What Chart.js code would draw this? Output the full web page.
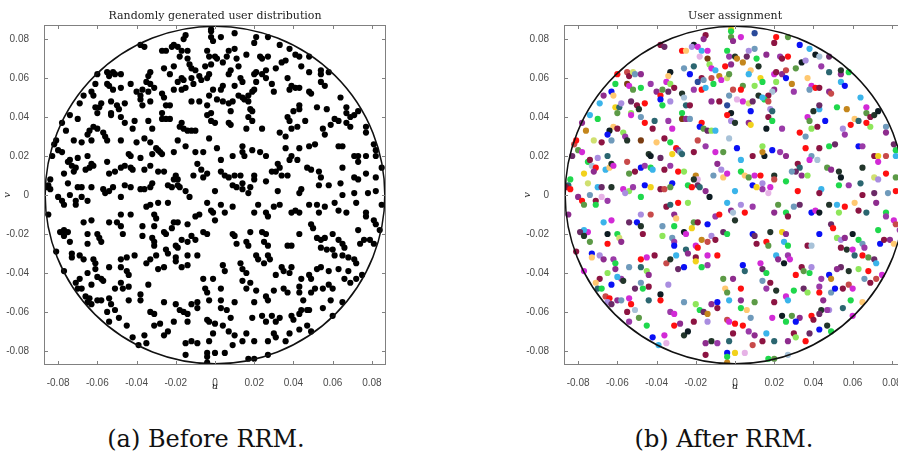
<!DOCTYPE html>
<html>
<head>
<meta charset="utf-8">
<script src="https://cdn.jsdelivr.net/npm/chart.js@4.4.1/dist/chart.umd.min.js"></script>
<style>
  html, body { margin: 0; padding: 0; background: #fff; }
  body { width: 898px; height: 454px; overflow: hidden; position: relative; }
  canvas { position: absolute; top: 0; }
  #chart-a { left: 0; }
  #chart-b { left: 520px; }
  .caption { position: absolute; top: 427px; font-family: "DejaVu Serif", serif; font-size: 24px; line-height: 1; color: #111; white-space: nowrap; transform: translateX(-50%); }
</style>
</head>
<body>
<canvas id="chart-a" width="420" height="400"></canvas>
<canvas id="chart-b" width="420" height="400"></canvas>
<div class="caption" style="left:206px">(a) Before RRM.</div>
<div class="caption" style="left:724px">(b) After RRM.</div>
<script>
// users as [u, v, group] - group is the index of the assigned colour on the right panel
const usersNW = [
  [-0.060,0.062,0],[-0.055,0.063,19],[-0.054,0.061,6],[-0.052,0.063,21],[-0.051,0.062,9],[-0.048,0.062,4],[-0.061,0.057,2],[-0.055,0.057,17],[-0.054,0.056,5],[-0.052,0.054,13],
  [-0.048,0.055,2],[-0.043,0.057,20],[-0.063,0.053,1],[-0.062,0.051,22],[-0.067,0.051,4],[-0.069,0.047,8],[-0.061,0.045,10],[-0.059,0.045,12],[-0.058,0.047,7],[-0.053,0.048,24],
  [-0.050,0.046,6],[-0.049,0.044,3],[-0.046,0.047,0],[-0.053,0.042,14],
  [-0.002,0.085,10],[-0.002,0.084,2],[-0.002,0.081,13],[-0.001,0.079,4],[-0.038,0.077,6],[-0.036,0.076,24],[-0.015,0.082,6],[-0.016,0.080,4],[-0.021,0.077,18],[-0.022,0.076,7],
  [-0.019,0.076,5],[-0.027,0.074,0],[-0.025,0.074,22],[-0.017,0.074,8],[-0.018,0.071,15],[-0.014,0.074,5],[-0.004,0.074,2],[-0.003,0.071,20],[0.000,0.071,3],[0.001,0.070,11],
  [-0.026,0.065,9],[-0.023,0.062,1],[-0.021,0.066,12],[-0.014,0.070,17],[-0.013,0.067,14],[-0.012,0.065,5],[-0.010,0.064,8],[-0.005,0.066,0],[-0.002,0.067,4],[-0.033,0.063,18],
  [-0.034,0.061,22],[-0.017,0.060,6],[-0.019,0.058,23],[-0.016,0.059,9],[-0.012,0.060,19],[-0.011,0.057,2],[-0.008,0.061,11],[-0.007,0.059,5],[-0.004,0.060,21],[-0.003,0.062,13],
  [-0.035,0.058,5],[-0.033,0.057,14],[-0.031,0.055,6],[-0.040,0.053,4],[-0.038,0.051,0],[-0.038,0.049,1],[-0.037,0.054,13],[-0.034,0.053,24],[-0.027,0.052,3],[-0.026,0.050,16],
  [-0.021,0.054,20],[-0.017,0.054,0],[-0.015,0.055,8],[-0.012,0.048,4],[-0.008,0.048,6],[-0.004,0.046,23],[-0.003,0.051,9],[-0.001,0.054,19],[-0.037,0.046,2],[-0.033,0.048,7],
  [-0.025,0.046,12],[-0.023,0.046,6],[-0.027,0.042,2],[0.001,0.049,15],[-0.002,0.042,18],
  [-0.074,0.041,8],[-0.060,0.042,13],[-0.053,0.041,5],[-0.048,0.040,9],[-0.046,0.037,0],[-0.070,0.039,2],[-0.078,0.037,4],[-0.062,0.035,22],[-0.060,0.034,6],[-0.064,0.033,18],
  [-0.065,0.031,1],[-0.057,0.032,14],[-0.056,0.030,20],[-0.055,0.028,3],[-0.076,0.033,11],[-0.082,0.026,19],[-0.081,0.028,0],[-0.072,0.028,21],[-0.068,0.027,6],[-0.063,0.028,9],
  [-0.048,0.028,17],[-0.080,0.023,13],[-0.078,0.022,5],[-0.083,0.020,24],[-0.070,0.019,7],[-0.065,0.020,12],[-0.075,0.017,2],[-0.074,0.018,6],[-0.073,0.015,16],[-0.071,0.014,0],
  [-0.072,0.012,4],[-0.077,0.011,10],[-0.066,0.013,8],[-0.064,0.014,22],[-0.063,0.016,3],[-0.062,0.015,5],[-0.055,0.017,19],[-0.054,0.011,13],[-0.051,0.012,6],[-0.048,0.014,1],
  [-0.046,0.015,20],[-0.084,0.008,2],[-0.085,0.005,12],[-0.086,0.004,6],[-0.084,0.003,0],[-0.075,0.006,21],[-0.070,0.004,8],[-0.068,0.004,24],[-0.063,0.004,3],[-0.057,0.003,5],
  [-0.054,0.002,14],[-0.052,0.004,20],[-0.046,0.005,1],[-0.043,0.004,10],[-0.080,-0.001,4],[-0.074,0.000,9],[-0.068,-0.001,15],[-0.056,0.001,7],[-0.048,-0.001,2],
  [-0.004,0.041,0],[-0.041,0.038,12],[-0.042,0.034,6],[-0.034,0.038,20],[-0.027,0.039,17],[-0.025,0.039,4],[-0.023,0.039,9],[-0.017,0.037,0],[-0.018,0.035,1],[-0.016,0.034,13],
  [-0.014,0.033,24],[-0.012,0.033,14],[-0.002,0.038,7],[0.000,0.037,3],[-0.010,0.033,8],[-0.032,0.034,5],[-0.040,0.027,22],[-0.036,0.029,6],[-0.033,0.027,2],[-0.019,0.028,19],
  [-0.015,0.025,20],[-0.003,0.029,16],[-0.030,0.024,0],[-0.029,0.023,4],[-0.028,0.022,9],[-0.027,0.021,12],[-0.021,0.022,6],[-0.010,0.022,5],[-0.006,0.022,13],[0.001,0.024,1],
  [-0.044,0.021,3],[-0.043,0.020,18],[-0.038,0.019,24],[-0.032,0.021,10],[-0.043,0.014,2],[-0.042,0.013,8],[-0.036,0.013,6],[-0.033,0.015,20],[-0.029,0.012,0],[-0.026,0.012,14],
  [-0.009,0.016,4],[-0.007,0.013,7],[-0.006,0.009,22],[-0.004,0.011,5],[-0.020,0.010,11],[-0.019,0.008,15],[-0.021,0.008,3],[-0.011,0.010,9],[-0.032,0.006,1],[-0.033,0.004,13],
  [-0.038,0.003,6],[-0.036,0.003,19],[-0.024,0.005,2],[-0.022,0.004,0],[-0.019,0.005,24],[-0.018,0.004,12],[-0.015,0.002,4],[-0.013,-0.001,18],[0.000,0.002,8]
];
const usersNE = [
  [0.003,0.081,5],[0.010,0.083,23],[0.020,0.078,6],[0.021,0.081,0],[0.027,0.081,13],[0.033,0.077,1],[0.038,0.075,8],[0.041,0.072,18],[0.043,0.071,16],[0.016,0.072,4],
  [0.023,0.071,20],[0.024,0.070,6],[0.027,0.071,0],[0.011,0.070,2],[0.010,0.075,9],[0.007,0.074,7],[0.006,0.071,24],[0.004,0.068,11],[0.008,0.064,22],[0.012,0.066,3],
  [0.007,0.062,8],[0.013,0.060,10],[0.014,0.058,2],[0.010,0.056,14],[0.020,0.062,5],[0.021,0.063,6],[0.024,0.062,4],[0.026,0.064,19],[0.026,0.060,1],[0.031,0.065,13],
  [0.034,0.068,18],[0.036,0.069,7],[0.044,0.066,20],[0.048,0.071,24],[0.048,0.063,12],[0.054,0.062,4],[0.054,0.064,3],[0.058,0.063,2],[0.054,0.058,8],[0.056,0.056,1],
  [0.037,0.060,22],[0.039,0.056,5],[0.041,0.055,0],[0.043,0.055,6],[0.038,0.054,9],[0.029,0.057,11],[0.030,0.053,20],[0.021,0.058,14],[0.020,0.054,4],[0.019,0.053,16],
  [0.017,0.051,6],[0.015,0.049,2],[0.017,0.048,19],[0.012,0.051,3],[0.014,0.050,8],[0.004,0.056,13],[0.003,0.054,0],[0.004,0.048,5],[0.007,0.047,21],[0.009,0.048,24],
  [0.008,0.043,1],[0.018,0.044,7],[0.019,0.043,12],[0.007,0.037,4],[0.008,0.036,10],[0.017,0.040,6],[0.019,0.038,2],[0.016,0.034,18],[0.024,0.034,20],[0.033,0.032,0],
  [0.036,0.030,9],[0.037,0.040,5],[0.038,0.038,13],[0.040,0.043,3],[0.043,0.044,8],[0.043,0.046,24],[0.039,0.034,14],[0.042,0.035,6],[0.046,0.038,1],[0.048,0.053,4],
  [0.049,0.052,19],[0.052,0.045,2],[0.057,0.044,11],[0.055,0.034,7],[0.056,0.031,20],[0.059,0.036,0],[0.061,0.039,22],[0.063,0.038,12],[0.064,0.050,8],[0.067,0.045,5],
  [0.067,0.042,13],[0.069,0.040,6],[0.071,0.041,3],[0.073,0.043,18],[0.077,0.035,9],[0.077,0.032,4],[0.082,0.023,2],[0.081,0.026,24],[0.069,0.035,14],[0.067,0.037,0],
  [0.063,0.025,1],[0.065,0.025,20],[0.071,0.020,6],[0.073,0.020,10],[0.073,0.017,5],[0.077,0.020,19],[0.082,0.020,8],[0.085,0.014,4],[0.082,0.009,13],[0.077,0.011,0],
  [0.065,0.014,3],[0.071,0.009,21],[0.073,0.008,7],[0.064,0.006,12],[0.048,0.025,2],[0.051,0.026,24],[0.043,0.024,6],[0.039,0.020,9],[0.042,0.018,16],[0.038,0.018,5],
  [0.036,0.024,0],[0.023,0.022,20],[0.026,0.020,4],[0.019,0.023,1],[0.014,0.025,14],[0.015,0.020,18],[0.014,0.022,11],[0.009,0.020,6],[0.003,0.018,8],[0.003,0.012,2],
  [0.005,0.010,22],[0.007,0.009,13],[0.010,0.010,5],[0.013,0.010,0],[0.020,0.010,3],[0.020,0.008,19],[0.032,0.016,6],[0.033,0.014,12],[0.034,0.010,4],[0.031,0.012,24],
  [0.029,0.012,9],[0.026,0.007,2],[0.014,0.006,7],[0.014,0.003,20],[0.009,0.005,1],[0.011,0.004,10],[0.018,0.004,5],[0.017,0.001,15],[0.032,0.002,0],[0.044,0.003,8],
  [0.043,0.001,6],[0.037,0.010,14],[0.047,0.014,13],[0.049,0.013,4],[0.053,0.012,3],[0.054,0.009,18],[0.053,0.005,2],[0.058,0.005,20],[0.065,0.000,6],[0.071,0.001,24],
  [0.078,0.001,9],[0.082,0.002,0]
];
const usersSW = [
  [-0.085,-0.010,4],[-0.078,-0.003,0],[-0.077,-0.005,13],[-0.071,-0.003,6],[-0.071,-0.005,2],[-0.065,-0.003,20],[-0.067,-0.014,8],[-0.063,-0.013,5],[-0.054,-0.014,24],[-0.050,-0.014,1],
  [-0.048,-0.016,3],[-0.043,-0.010,19],[-0.048,-0.010,7],[-0.035,-0.006,6],[-0.033,-0.005,12],[-0.029,-0.004,0],[-0.024,-0.004,14],[-0.031,-0.010,4],[-0.030,-0.012,22],[-0.037,-0.016,9],
  [-0.031,-0.016,2],[-0.026,-0.019,18],[-0.025,-0.020,5],[-0.022,-0.017,10],[-0.021,-0.014,13],[-0.019,-0.014,6],[-0.014,-0.015,1],[-0.010,-0.011,20],[-0.008,-0.010,0],[-0.004,-0.004,8],
  [-0.002,-0.008,4],[-0.001,-0.009,16],[0.000,-0.013,3],[-0.006,-0.019,24],[-0.004,-0.020,2],[-0.012,-0.021,7],[-0.010,-0.023,6],[-0.017,-0.023,11],[-0.014,-0.024,19],[-0.020,-0.026,5],
  [-0.019,-0.027,0],[-0.025,-0.028,12],[-0.024,-0.030,4],[-0.032,-0.022,9],[-0.031,-0.024,20],[-0.031,-0.026,1],[-0.037,-0.021,14],[-0.047,-0.020,6],[-0.060,-0.020,2],[-0.059,-0.022,21],
  [-0.058,-0.024,4],[-0.065,-0.020,18],[-0.065,-0.025,0],[-0.075,-0.019,5],[-0.077,-0.018,8],[-0.079,-0.019,24],[-0.077,-0.021,3],[-0.074,-0.024,13],[-0.081,-0.029,6],[-0.073,-0.030,1],
  [-0.073,-0.032,22],[-0.069,-0.031,7],[-0.067,-0.033,4],[-0.062,-0.033,20],[-0.061,-0.035,2],[-0.054,-0.037,9],[-0.048,-0.033,0],[-0.045,-0.032,5],[-0.041,-0.031,6],[-0.048,-0.037,12],
  [-0.045,-0.039,14],[-0.044,-0.041,4],[-0.035,-0.035,19],[-0.033,-0.033,3],[-0.030,-0.031,8],[-0.029,-0.038,24],[-0.026,-0.037,1],[-0.020,-0.032,6],[-0.020,-0.034,10],[-0.017,-0.037,2],
  [-0.014,-0.036,20],[-0.014,-0.031,5],[-0.009,-0.031,0],[-0.006,-0.043,13],[-0.001,-0.043,4],[-0.034,-0.046,7],[-0.038,-0.051,18],[-0.044,-0.047,6],[-0.047,-0.048,2],[-0.048,-0.045,9],
  [-0.051,-0.048,24],[-0.054,-0.053,5],[-0.053,-0.056,0],[-0.051,-0.059,16],[-0.058,-0.043,20],[-0.057,-0.044,3],[-0.060,-0.042,8],[-0.061,-0.038,4],[-0.063,-0.046,1],[-0.065,-0.040,14],
  [-0.069,-0.043,6],[-0.071,-0.045,22],[-0.070,-0.048,12],[-0.068,-0.048,2],[-0.077,-0.039,5],[-0.066,-0.052,19],[-0.064,-0.053,0],[-0.065,-0.055,7],[-0.063,-0.056,24],[-0.060,-0.054,4],
  [-0.058,-0.054,9],[-0.055,-0.060,6],[-0.049,-0.063,13],[-0.045,-0.067,2],[-0.054,-0.065,20],[-0.042,-0.073,1],[-0.039,-0.077,8],[-0.036,-0.072,5],[-0.035,-0.076,15],[-0.031,-0.067,0],
  [-0.028,-0.066,4],[-0.026,-0.072,3],[-0.024,-0.070,18],[-0.021,-0.065,6],[-0.020,-0.056,14],[-0.018,-0.059,2],[-0.016,-0.060,24],[-0.014,-0.061,11],[-0.026,-0.055,9],[-0.033,-0.060,20],
  [-0.031,-0.061,5],[-0.038,-0.054,0],[-0.044,-0.054,12],[-0.012,-0.056,4],[-0.009,-0.055,1],[-0.009,-0.058,6],[-0.005,-0.048,22],[-0.004,-0.050,13],[-0.003,-0.054,8],[0.003,-0.058,2],
  [-0.004,-0.064,19],[-0.003,-0.065,5],[0.000,-0.066,0],[-0.014,-0.065,7],[-0.015,-0.076,4],[-0.012,-0.075,3],[-0.009,-0.076,20],[-0.003,-0.075,12],[-0.001,-0.071,6],[-0.015,-0.082,6],
  [-0.004,-0.081,1],[-0.004,-0.083,2],[-0.004,-0.086,11],[0.000,-0.081,10]
];
const usersSE = [
  [0.003,-0.005,7],[0.005,-0.009,0],[0.009,-0.006,20],[0.020,-0.009,4],[0.022,-0.005,13],[0.026,-0.009,2],[0.027,-0.011,6],[0.030,-0.006,9],[0.033,-0.005,24],[0.039,-0.009,1],
  [0.041,-0.008,5],[0.043,-0.009,18],[0.048,-0.005,3],[0.052,-0.005,8],[0.053,-0.009,14],[0.056,-0.006,0],[0.061,-0.004,22],[0.063,-0.008,6],[0.067,-0.009,12],[0.072,-0.004,4],
  [0.077,-0.009,2],[0.077,-0.011,20],[0.081,-0.013,5],[0.082,-0.015,19],[0.085,-0.005,9],[0.009,-0.020,1],[0.010,-0.021,24],[0.011,-0.025,6],[0.016,-0.024,0],[0.017,-0.026,13],
  [0.018,-0.019,3],[0.024,-0.019,10],[0.026,-0.020,4],[0.025,-0.024,8],[0.027,-0.026,2],[0.027,-0.031,20],[0.028,-0.033,5],[0.037,-0.026,6],[0.039,-0.026,16],[0.043,-0.020,1],
  [0.049,-0.015,24],[0.050,-0.017,0],[0.052,-0.022,14],[0.054,-0.023,7],[0.056,-0.022,4],[0.060,-0.020,18],[0.063,-0.023,2],[0.065,-0.025,9],[0.066,-0.027,20],[0.054,-0.027,6],
  [0.057,-0.028,3],[0.060,-0.028,5],[0.061,-0.031,12],[0.065,-0.031,0],[0.068,-0.032,13],[0.071,-0.033,24],[0.072,-0.035,8],[0.074,-0.025,1],[0.076,-0.023,6],[0.079,-0.023,4],
  [0.081,-0.025,22],[0.073,-0.018,2],[0.084,-0.018,20],[0.075,-0.041,5],[0.072,-0.043,19],[0.068,-0.039,0],[0.066,-0.043,9],[0.069,-0.045,6],[0.063,-0.038,14],[0.058,-0.039,3],
  [0.054,-0.037,24],[0.052,-0.038,4],[0.048,-0.041,1],[0.049,-0.043,11],[0.044,-0.043,20],[0.038,-0.040,2],[0.039,-0.037,7],[0.034,-0.037,6],[0.035,-0.039,13],[0.031,-0.041,0],
  [0.021,-0.031,8],[0.022,-0.033,4],[0.025,-0.035,18],[0.013,-0.035,5],[0.014,-0.038,24],[0.016,-0.040,2],[0.014,-0.044,9],[0.016,-0.048,20],[0.018,-0.045,6],[0.004,-0.036,1],
  [0.005,-0.039,12],[0.003,-0.048,0],[0.003,-0.054,4],[0.006,-0.059,22],[0.010,-0.055,13],[0.021,-0.049,3],[0.026,-0.052,5],[0.027,-0.054,8],[0.020,-0.055,6],[0.030,-0.049,2],
  [0.035,-0.048,24],[0.037,-0.050,14],[0.043,-0.047,20],[0.043,-0.050,0],[0.045,-0.054,4],[0.049,-0.050,9],[0.051,-0.048,1],[0.055,-0.048,6],[0.058,-0.046,19],[0.060,-0.048,5],
  [0.059,-0.054,2],[0.055,-0.058,12],[0.048,-0.059,7],[0.044,-0.059,3],[0.047,-0.059,20],[0.043,-0.061,24],[0.039,-0.062,0],[0.040,-0.064,6],[0.033,-0.063,4],[0.029,-0.062,13],
  [0.031,-0.065,1],[0.024,-0.062,18],[0.026,-0.065,2],[0.019,-0.063,5],[0.008,-0.063,9],[0.004,-0.067,0],[0.007,-0.070,20],[0.010,-0.072,4],[0.016,-0.071,8],[0.030,-0.071,6],
  [0.031,-0.073,14],[0.038,-0.071,24],[0.043,-0.069,1],[0.047,-0.067,3],[0.049,-0.070,2],[0.060,-0.062,5],[0.065,-0.055,22],[0.036,-0.075,0],[0.027,-0.075,4],[0.020,-0.075,12],
  [0.014,-0.075,6],[0.009,-0.077,19],[0.005,-0.081,15],[0.017,-0.084,2],[0.020,-0.084,13],[0.027,-0.082,16]
];

const axisTicks = [-0.08, -0.06, -0.04, -0.02, 0, 0.02, 0.04, 0.06, 0.08];
const axisLimit = 0.0872;
const cellRadius = 0.0866;

const palette = [
  "#ff1010", "#0a10f5", "#1fd84c", "#22352a", "#8e2c8e", "#d22ad6", "#8c1442", "#a98de0", "#3ab4ea",
  "#6f9abb", "#f2d21c", "#c4861c", "#2b6670", "#5c9a46", "#8ee65a", "#e6b2e6", "#a8c2d8", "#7a3c12",
  "#0e1c22", "#c84a4a", "#9a3aa8", "#d0e070", "#ffc870", "#2a4a9a", "#6a2a66",
];

const users = [...usersNW, ...usersNE, ...usersSW, ...usersSE];

// box, inward ticks, cell boundary, title and axis names (matlab look)
const framePlugin = {
  id: "frame",
  afterDatasetsDraw(chart, args, opts) {
    const { ctx, chartArea: a, scales: { x, y } } = chart;
    ctx.save();
    const cx = x.getPixelForValue(0), cy = y.getPixelForValue(0);
    const rx = x.getPixelForValue(cellRadius) - cx;
    const ry = cy - y.getPixelForValue(cellRadius);
    ctx.beginPath();
    ctx.ellipse(cx, cy, rx, ry, 0, 0, Math.PI * 2);
    ctx.strokeStyle = "#111";
    ctx.lineWidth = 1.5;
    ctx.stroke();

    ctx.strokeStyle = "#808080";
    ctx.lineWidth = 1;
    ctx.strokeRect(a.left + 0.5, a.top + 0.5, a.right - a.left - 1, a.bottom - a.top - 1);
    ctx.beginPath();
    axisTicks.forEach((v) => {
      const px = Math.round(x.getPixelForValue(v)) + 0.5;
      ctx.moveTo(px, a.bottom); ctx.lineTo(px, a.bottom - 4);
      ctx.moveTo(px, a.top); ctx.lineTo(px, a.top + 4);
      const py = Math.round(y.getPixelForValue(v)) + 0.5;
      ctx.moveTo(a.left, py); ctx.lineTo(a.left + 4, py);
      ctx.moveTo(a.right, py); ctx.lineTo(a.right - 4, py);
    });
    ctx.stroke();
    ctx.restore();
  },
  afterDraw(chart, args, opts) {
    const { ctx, chartArea: a } = chart;
    const mx = (a.left + a.right) / 2, my = (a.top + a.bottom) / 2;
    ctx.save();
    ctx.fillStyle = "#222";
    ctx.textAlign = "center";
    ctx.textBaseline = "alphabetic";
    ctx.font = '11px "DejaVu Serif", serif';
    ctx.fillText(opts.title, mx, 19);
    ctx.font = 'italic 10px "DejaVu Serif", serif';
    ctx.fillText("u", mx, 389);
    ctx.translate(10, my);
    ctx.rotate(-Math.PI / 2);
    ctx.fillText("v", 0, 0);
    ctx.restore();
  },
};

function axisOptions(isX) {
  return {
    type: "linear",
    min: -axisLimit,
    max: axisLimit,
    afterBuildTicks: (axis) => { axis.ticks = axisTicks.map((v) => ({ value: v })); },
    afterFit: (axis) => { if (isX) axis.height = 35; else axis.width = 44; },
    grid: { display: false },
    border: { display: false },
    ticks: {
      autoSkip: false,
      maxRotation: 0,
      padding: isX ? 4 : 7,
      color: "#4a4a4a",
      font: { family: "Liberation Sans", size: 10 },
      callback: (v) => (v === 0 ? "0" : v.toFixed(2)),
    },
  };
}

function makeChart(id, title, colors) {
  return new Chart(document.getElementById(id), {
    type: "scatter",
    data: {
      datasets: [{
        data: users.map((p) => ({ x: p[0], y: p[1] })),
        backgroundColor: colors,
        borderWidth: 0,
        pointRadius: 3.1,
      }],
    },
    options: {
      responsive: false,
      animation: false,
      events: [],
      layout: { padding: { top: 25, right: 34, bottom: 0, left: 0 } },
      plugins: { legend: { display: false }, tooltip: { enabled: false }, frame: { title } },
      scales: { x: axisOptions(true), y: axisOptions(false) },
    },
    plugins: [framePlugin],
  });
}

makeChart("chart-a", "Randomly generated user distribution", "#000");
makeChart("chart-b", "User assignment", users.map((p) => palette[p[2]]));
</script>
</body>
</html>
